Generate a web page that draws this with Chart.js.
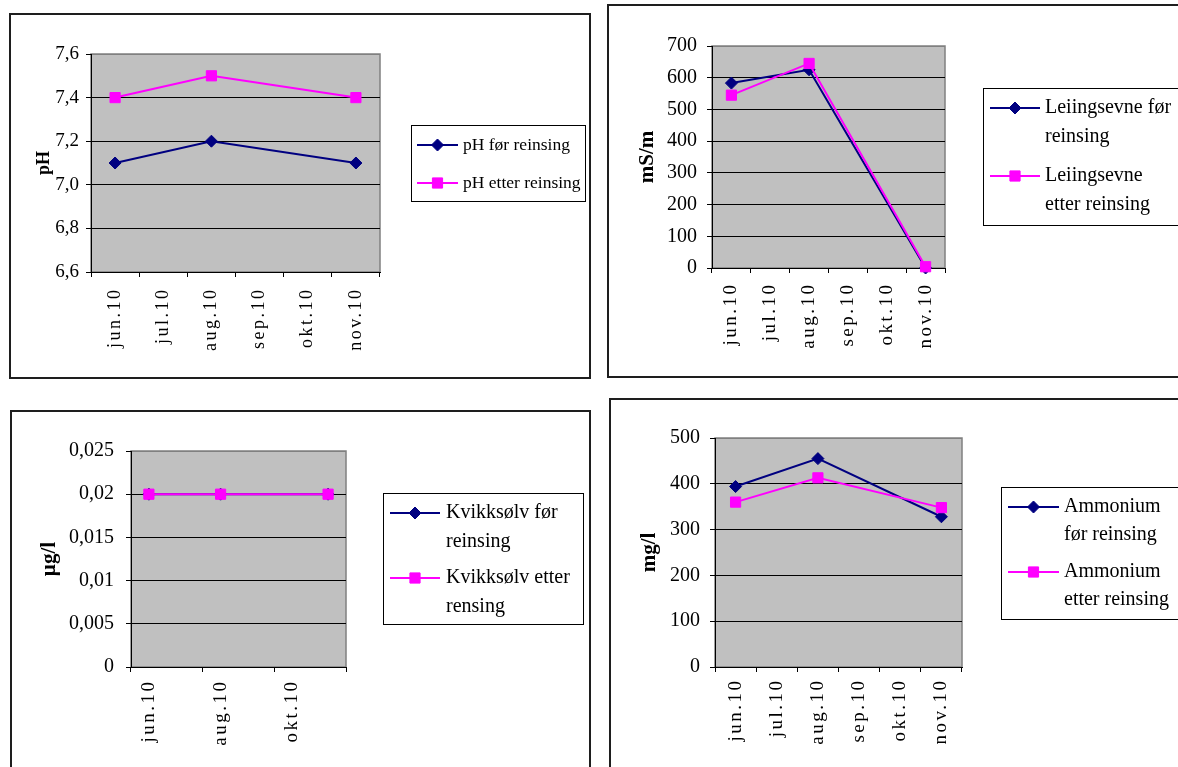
<!DOCTYPE html>
<html>
<head>
<meta charset="utf-8">
<title>Vannkvalitet før og etter reinsing</title>
<script src="https://cdn.jsdelivr.net/npm/chart.js@4/dist/chart.umd.min.js"></script>
<style>
  html, body { margin: 0; padding: 0; background: #fff; }
  body { width: 1178px; height: 767px; overflow: hidden; position: relative; }
  .panel { position: absolute; border: 2px solid #1e1e1e; background: #fff; overflow: hidden; }
  .panel canvas { display: block; }
</style>
</head>
<body>
<div class="panel" style="left:9px;top:13px;width:578px;height:362px"><canvas id="chartPh" width="578" height="362"></canvas></div>
<div class="panel" style="left:607px;top:4px;width:580px;height:370px"><canvas id="chartLed" width="580" height="370"></canvas></div>
<div class="panel" style="left:10px;top:410px;width:577px;height:380px"><canvas id="chartHg" width="577" height="380"></canvas></div>
<div class="panel" style="left:609px;top:398px;width:580px;height:380px"><canvas id="chartNh4" width="580" height="380"></canvas></div>

<script>
// Sampling months (monthly date axis; only jun, aug and nov have samples)
const months = ['jun.10', 'jul.10', 'aug.10', 'sep.10', 'okt.10', 'nov.10'];

// pH
const phFor   = [7.1, null, 7.2, null, null, 7.1];
const phEtter = [7.4, null, 7.5, null, null, 7.4];
const phScale = { min: 6.6, max: 7.6, step: 0.2 };

// Leiingsevne (mS/m)
const ledFor   = [583, null, 625, null, null, 0];
const ledEtter = [545, null, 645, null, null, 4];
const ledScale = { min: 0, max: 700, step: 100 };

// Kvikksølv (µg/l)
const hgFor   = [0.02, null, 0.02, null, null, 0.02];
const hgEtter = [0.02, null, 0.02, null, null, 0.02];
const hgScale = { min: 0, max: 0.025, step: 0.005 };

// Ammonium (mg/l)
const nh4For   = [394, null, 455, null, null, 328];
const nh4Etter = [360, null, 413, null, null, 348];
const nh4Scale = { min: 0, max: 500, step: 100 };

const SERIF = '"Liberation Serif", "Times New Roman", Times, serif';
const NAVY = '#000080';
const MAGENTA = '#ff00ff';

// Grey plot area with a grey frame, painted under grid and lines
const plotFrame = {
  id: 'plotFrame',
  beforeDraw(chart) {
    const { ctx, chartArea: a } = chart;
    ctx.save();
    ctx.fillStyle = '#c0c0c0';
    ctx.fillRect(a.left, a.top, a.right - a.left, a.bottom - a.top);
    ctx.strokeStyle = '#808080';
    ctx.lineWidth = 1.5;
    ctx.strokeRect(a.left, a.top, a.right - a.left, a.bottom - a.top);
    ctx.restore();
  }
};

// Vertical month labels under the category axis, slightly letter-spaced
const monthLabels = {
  id: 'monthLabels',
  afterDraw(chart, args, o) {
    const xs = chart.scales.x;
    const ctx = chart.ctx;
    ctx.save();
    ctx.fillStyle = '#000';
    ctx.font = o.size + 'px ' + SERIF;
    ctx.letterSpacing = o.spacing + 'px';
    ctx.textAlign = 'right';
    ctx.textBaseline = 'middle';
    xs.ticks.forEach((t, i) => {
      if (i % o.every !== 0) return;
      const x = xs.getPixelForTick(i);
      ctx.save();
      ctx.translate(x, chart.chartArea.bottom + o.gap - o.spacing);
      ctx.rotate(-Math.PI / 2);
      ctx.fillText(xs.getLabelForValue(t.value), 0, 0);
      ctx.restore();
    });
    ctx.restore();
  }
};

function drawMarker(ctx, style, x, y, r, color) {
  ctx.fillStyle = color;
  ctx.strokeStyle = color;
  ctx.lineWidth = 1;
  ctx.beginPath();
  if (style === 'rectRot') {
    ctx.moveTo(x, y - r);
    ctx.lineTo(x + r, y);
    ctx.lineTo(x, y + r);
    ctx.lineTo(x - r, y);
  } else {
    const s = r * Math.SQRT1_2;
    ctx.rect(x - s, y - s, 2 * s, 2 * s);
  }
  ctx.closePath();
  ctx.fill();
  ctx.stroke();
}

// Framed legend box with line samples and wrapped labels
const boxLegend = {
  id: 'boxLegend',
  afterDraw(chart, args, o) {
    const ctx = chart.ctx;
    ctx.save();
    ctx.fillStyle = '#fff';
    ctx.fillRect(o.x, o.y, o.w, o.h);
    ctx.strokeStyle = '#000';
    ctx.lineWidth = 1;
    ctx.strokeRect(o.x + 0.5, o.y + 0.5, o.w, o.h);
    chart.data.datasets.forEach((ds, i) => {
      const y = o.rows[i];
      ctx.strokeStyle = ds.borderColor;
      ctx.lineWidth = ds.borderWidth;
      ctx.beginPath();
      ctx.moveTo(o.lineX0, y);
      ctx.lineTo(o.lineX1, y);
      ctx.stroke();
      drawMarker(ctx, ds.pointStyle, (o.lineX0 + o.lineX1) / 2, y, ds.pointRadius, ds.pointBackgroundColor);
      ctx.fillStyle = '#000';
      ctx.font = o.size + 'px ' + SERIF;
      ctx.textAlign = 'left';
      ctx.textBaseline = 'middle';
      ds.legendLines.forEach((t, k) => ctx.fillText(t, o.textX, y + k * o.lh));
    });
    ctx.restore();
  }
};

function buildChart(id, spec) {
  const canvas = document.getElementById(id);
  const W = canvas.width, H = canvas.height;
  const p = spec.plot;
  const padLeft = spec.titleX - spec.titleSize * 0.6;
  const sc = spec.scale;
  const every = spec.xEvery || 1;
  return new Chart(canvas, {
    type: 'line',
    data: {
      labels: months,
      datasets: spec.series.map((s, i) => ({
        label: s.lines.join(' '),
        legendLines: s.lines,
        data: s.data,
        borderColor: s.color,
        backgroundColor: s.color,
        pointBackgroundColor: s.color,
        pointBorderColor: s.color,
        pointStyle: s.marker,
        pointRadius: s.radius,
        pointBorderWidth: 1,
        borderWidth: 2,
        tension: 0,
        spanGaps: true,
        fill: false,
        clip: false,
        order: spec.series.length - i
      }))
    },
    options: {
      responsive: false,
      animation: false,
      devicePixelRatio: 1,
      events: [],
      layout: { padding: { left: padLeft, top: p.t, right: W - p.r, bottom: 0 } },
      plugins: {
        legend: { display: false },
        tooltip: { enabled: false },
        boxLegend: spec.legend,
        monthLabels: { size: spec.xSize, spacing: spec.xSpacing, gap: spec.xGap, every: every }
      },
      scales: {
        x: {
          type: 'category',
          offset: true,
          grid: {
            display: true,
            offset: true,
            drawOnChartArea: false,
            drawTicks: true,
            tickLength: 5,
            lineWidth: 1,
            tickColor: c => (c.index === undefined || c.index % every === 0) ? '#000' : 'rgba(0,0,0,0)'
          },
          border: { display: true, color: '#000', width: 1 },
          ticks: { display: false, autoSkip: false },
          afterFit: s => { s.height = H - p.b; }
        },
        y: {
          min: sc.min,
          max: sc.max,
          ticks: {
            stepSize: sc.step,
            padding: spec.yPad,
            color: '#000',
            font: { family: SERIF, size: spec.ySize },
            callback: spec.fmt
          },
          grid: {
            color: c => (c.tick && Math.abs(c.tick.value - sc.max) < 1e-9) ? '#808080' : '#000',
            tickColor: '#000',
            tickLength: 5,
            drawTicks: true,
            lineWidth: 1
          },
          border: { display: true, color: '#000', width: 1 },
          title: {
            display: true,
            text: spec.yTitle,
            color: '#000',
            padding: 0,
            font: { family: SERIF, size: spec.titleSize, weight: 'bold' }
          },
          afterFit: s => { s.width = p.l - padLeft; }
        }
      }
    },
    plugins: [plotFrame, monthLabels, boxLegend]
  });
}

buildChart('chartPh', {
  series: [
    { lines: ['pH før reinsing'], data: phFor, color: NAVY, marker: 'rectRot', radius: 6 },
    { lines: ['pH etter reinsing'], data: phEtter, color: MAGENTA, marker: 'rect', radius: 7.2 }
  ],
  scale: phScale,
  fmt: v => v.toFixed(1).replace('.', ','),
  yTitle: 'pH', titleX: 33, titleSize: 18,
  plot: { l: 80, t: 39, r: 369, b: 257 },
  ySize: 19, yPad: 7,
  xSize: 18, xSpacing: 2.5, xGap: 18,
  legend: { x: 400, y: 110, w: 174, h: 76, lineX0: 406, lineX1: 447, textX: 452, rows: [130, 168], lh: 20, size: 17.5 }
});

buildChart('chartLed', {
  series: [
    { lines: ['Leiingsevne før', 'reinsing'], data: ledFor, color: NAVY, marker: 'rectRot', radius: 6 },
    { lines: ['Leiingsevne', 'etter reinsing'], data: ledEtter, color: MAGENTA, marker: 'rect', radius: 7.2 }
  ],
  scale: ledScale,
  fmt: v => String(v),
  yTitle: 'mS/m', titleX: 39, titleSize: 21,
  plot: { l: 103, t: 40, r: 336, b: 262 },
  ySize: 20, yPad: 10,
  xSize: 19, xSpacing: 2.5, xGap: 17,
  legend: { x: 374, y: 82, w: 240, h: 137, lineX0: 381, lineX1: 431, textX: 436, rows: [102, 170], lh: 28.5, size: 20 }
});

buildChart('chartHg', {
  series: [
    { lines: ['Kvikksølv før', 'reinsing'], data: hgFor, color: NAVY, marker: 'rectRot', radius: 6 },
    { lines: ['Kvikksølv etter', 'rensing'], data: hgEtter, color: MAGENTA, marker: 'rect', radius: 7.2 }
  ],
  scale: hgScale,
  fmt: v => v === 0 ? '0' : String(+v.toFixed(3)).replace('.', ','),
  yTitle: 'µg/l', titleX: 38, titleSize: 21,
  plot: { l: 119, t: 39, r: 334, b: 255 },
  ySize: 20, yPad: 12,
  xSize: 19, xSpacing: 2.5, xGap: 15, xEvery: 2,
  legend: { x: 371, y: 81, w: 200, h: 131, lineX0: 378, lineX1: 428, textX: 434, rows: [101, 166], lh: 28.5, size: 20 }
});

buildChart('chartNh4', {
  series: [
    { lines: ['Ammonium', 'før reinsing'], data: nh4For, color: NAVY, marker: 'rectRot', radius: 6 },
    { lines: ['Ammonium', 'etter reinsing'], data: nh4Etter, color: MAGENTA, marker: 'rect', radius: 7.2 }
  ],
  scale: nh4Scale,
  fmt: v => String(v),
  yTitle: 'mg/l', titleX: 39, titleSize: 21,
  plot: { l: 104, t: 38, r: 351, b: 267 },
  ySize: 20, yPad: 10,
  xSize: 19, xSpacing: 2.5, xGap: 14,
  legend: { x: 390, y: 87, w: 240, h: 132, lineX0: 397, lineX1: 448, textX: 453, rows: [107, 172], lh: 27.5, size: 20 }
});
</script>
</body>
</html>
